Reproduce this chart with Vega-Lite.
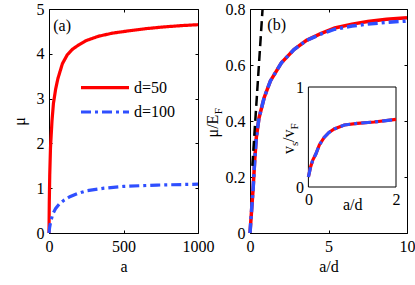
{
  "$schema": "https://vega.github.io/schema/vega-lite/v6.json",
  "padding": {"left": 10, "top": 0, "right": 0, "bottom": 0},
  "bounds": "flush",
  "spacing": 52,
  "config": {
    "font": "Liberation Serif",
    "view": {"stroke": "#000", "strokeWidth": 1},
    "axis": {
      "labelFont": "Liberation Serif", "labelFontSize": 16, "labelColor": "#000",
      "titleFont": "Liberation Serif", "titleFontSize": 16, "titleFontWeight": "normal", "titleColor": "#000",
      "domain": false, "grid": false, "tickSize": -3, "tickColor": "#000", "tickWidth": 1,
      "labelPadding": 8, "labelFlush": false
    },
    "legend": {"labelFont": "Liberation Serif"},
    "text": {"font": "Liberation Serif", "color": "#000"}
  },
  "datasets": {
    "a": [
      {"a": 0, "mu": 0, "d": "d=50"}, {"a": 2, "mu": 0.7, "d": "d=50"}, {"a": 5, "mu": 1.3, "d": "d=50"},
      {"a": 10, "mu": 1.9, "d": "d=50"}, {"a": 20, "mu": 2.5, "d": "d=50"}, {"a": 30, "mu": 2.9, "d": "d=50"},
      {"a": 45, "mu": 3.22, "d": "d=50"}, {"a": 60, "mu": 3.45, "d": "d=50"}, {"a": 90, "mu": 3.78, "d": "d=50"},
      {"a": 123, "mu": 3.98, "d": "d=50"}, {"a": 157, "mu": 4.1, "d": "d=50"}, {"a": 200, "mu": 4.2, "d": "d=50"},
      {"a": 246, "mu": 4.29, "d": "d=50"}, {"a": 330, "mu": 4.39, "d": "d=50"}, {"a": 424, "mu": 4.46, "d": "d=50"},
      {"a": 530, "mu": 4.51, "d": "d=50"}, {"a": 647, "mu": 4.56, "d": "d=50"}, {"a": 770, "mu": 4.6, "d": "d=50"},
      {"a": 893, "mu": 4.63, "d": "d=50"}, {"a": 1000, "mu": 4.65, "d": "d=50"},
      {"a": 0, "mu": 0, "d": "d=100"}, {"a": 4, "mu": 0.12, "d": "d=100"}, {"a": 11, "mu": 0.25, "d": "d=100"},
      {"a": 25, "mu": 0.42, "d": "d=100"}, {"a": 45, "mu": 0.55, "d": "d=100"}, {"a": 70, "mu": 0.65, "d": "d=100"},
      {"a": 100, "mu": 0.73, "d": "d=100"}, {"a": 140, "mu": 0.81, "d": "d=100"}, {"a": 190, "mu": 0.88, "d": "d=100"},
      {"a": 250, "mu": 0.94, "d": "d=100"}, {"a": 370, "mu": 1.0, "d": "d=100"}, {"a": 500, "mu": 1.04, "d": "d=100"},
      {"a": 725, "mu": 1.07, "d": "d=100"}, {"a": 1000, "mu": 1.09, "d": "d=100"}
    ],
    "bRed": [
      {"x": 0, "y": 0}, {"x": 0.1, "y": 0.08}, {"x": 0.2, "y": 0.16}, {"x": 0.3, "y": 0.26}, {"x": 0.4, "y": 0.34},
      {"x": 0.57, "y": 0.41}, {"x": 0.9, "y": 0.483}, {"x": 1.3, "y": 0.543}, {"x": 2, "y": 0.608}, {"x": 2.8, "y": 0.655},
      {"x": 3.6, "y": 0.688}, {"x": 4.5, "y": 0.712}, {"x": 5.4, "y": 0.732}, {"x": 6.5, "y": 0.746}, {"x": 7.5, "y": 0.755},
      {"x": 8.7, "y": 0.763}, {"x": 10, "y": 0.769}
    ],
    "bBlue": [
      {"x": 0, "y": 0}, {"x": 0.1, "y": 0.08}, {"x": 0.2, "y": 0.16}, {"x": 0.3, "y": 0.26}, {"x": 0.4, "y": 0.34},
      {"x": 0.57, "y": 0.41}, {"x": 0.9, "y": 0.483}, {"x": 1.3, "y": 0.543}, {"x": 2, "y": 0.608}, {"x": 2.8, "y": 0.655},
      {"x": 3.6, "y": 0.688}, {"x": 4.5, "y": 0.71}, {"x": 5.4, "y": 0.728}, {"x": 6.5, "y": 0.739}, {"x": 7.5, "y": 0.746},
      {"x": 8.7, "y": 0.752}, {"x": 10, "y": 0.757}
    ],
    "bBlack": [{"x": 0.15, "y": 0.24}, {"x": 0.8, "y": 0.8}],
    "inRed": [
      {"x": 0, "y": 0.1}, {"x": 0.05, "y": 0.2}, {"x": 0.1, "y": 0.27}, {"x": 0.17, "y": 0.33}, {"x": 0.25, "y": 0.42},
      {"x": 0.36, "y": 0.495}, {"x": 0.47, "y": 0.545}, {"x": 0.59, "y": 0.58}, {"x": 0.82, "y": 0.62}, {"x": 1.12, "y": 0.637},
      {"x": 1.5, "y": 0.65}, {"x": 2, "y": 0.677}
    ],
    "inBlue": [
      {"x": 0, "y": 0.1}, {"x": 0.05, "y": 0.2}, {"x": 0.1, "y": 0.27}, {"x": 0.17, "y": 0.33}, {"x": 0.25, "y": 0.42},
      {"x": 0.36, "y": 0.495}, {"x": 0.47, "y": 0.545}, {"x": 0.59, "y": 0.58}, {"x": 0.82, "y": 0.62}, {"x": 1.12, "y": 0.637},
      {"x": 1.5, "y": 0.65}, {"x": 2, "y": 0.675}
    ]
  },
  "hconcat": [
    {
      "width": 149, "height": 224,
      "layer": [
        {
          "data": {"name": "a"},
          "mark": {"type": "line", "strokeWidth": 3.2},
          "encoding": {
            "x": {"field": "a", "type": "quantitative", "scale": {"domain": [0, 1000], "nice": false},
              "axis": {"orient": "bottom", "values": [0, 500, 1000], "format": "d", "title": "a", "titleY": 38, "titleBaseline": "alphabetic"}},
            "y": {"field": "mu", "type": "quantitative", "scale": {"domain": [0, 5], "nice": false},
              "axis": {"orient": "left", "values": [0, 1, 2, 3, 4, 5], "title": "μ", "titlePadding": 9}},
            "color": {"field": "d", "type": "nominal", "scale": {"domain": ["d=50", "d=100"], "range": ["#ff0000", "#2f4fff"]},
              "legend": {"orient": "none", "legendX": 30, "legendY": 66.7, "title": null, "symbolType": "stroke", "symbolSize": 2304, "clipHeight": 24,
                "symbolStrokeWidth": 3.2, "labelFontSize": 16, "labelFont": "Liberation Serif", "labelColor": "#000", "labelOffset": 3, "rowPadding": 0.3, "padding": 0}},
            "strokeDash": {"field": "d", "type": "nominal", "scale": {"domain": ["d=50", "d=100"], "range": [[1, 0], [10, 4, 3, 4]]},
              "legend": {"orient": "none", "legendX": 30, "legendY": 66.7, "title": null, "symbolType": "stroke", "symbolSize": 2304, "clipHeight": 24,
                "symbolStrokeWidth": 3.2, "labelFontSize": 16, "labelFont": "Liberation Serif", "labelColor": "#000", "labelOffset": 3, "rowPadding": 0.3, "padding": 0}}
          }
        },
        {
          "data": {"name": "a"},
          "mark": {"type": "line", "opacity": 0},
          "encoding": {
            "x": {"field": "a", "type": "quantitative", "axis": {"orient": "top", "values": [0, 500, 1000], "labels": false, "title": null}},
            "y": {"field": "mu", "type": "quantitative", "axis": {"orient": "right", "values": [0, 1, 2, 3, 4, 5], "labels": false, "title": null}}
          }
        },
        {
          "data": {"values": [{"t": "(a)"}]},
          "mark": {"type": "text", "fontSize": 16, "align": "center", "baseline": "middle"},
          "encoding": {
            "text": {"field": "t"},
            "x": {"datum": 88, "type": "quantitative", "axis": null},
            "y": {"datum": 4.63, "type": "quantitative", "axis": null}
          }
        }
      ],
      "resolve": {"axis": {"x": "independent", "y": "independent"}}
    },
    {
      "width": 157, "height": 224,
      "layer": [
        {
          "layer": [
            {
              "data": {"name": "bRed"},
              "mark": {"type": "line", "color": "#ff0000", "strokeWidth": 3.5},
              "encoding": {
                "x": {"field": "x", "type": "quantitative", "scale": {"domain": [0, 10], "nice": false},
                  "axis": {"orient": "bottom", "values": [0, 5, 10], "title": "a/d", "titleY": 38, "titleBaseline": "alphabetic"}},
                "y": {"field": "y", "type": "quantitative", "scale": {"domain": [0, 0.8], "nice": false},
                  "axis": {"orient": "left", "values": [0, 0.2, 0.4, 0.6, 0.8], "format": "~g", "title": null}}
              }
            },
            {
              "data": {"name": "bBlue"},
              "mark": {"type": "line", "color": "#2f4fff", "strokeWidth": 3.5, "strokeDash": [10, 4, 3, 4]},
              "encoding": {
                "x": {"field": "x", "type": "quantitative", "axis": null},
                "y": {"field": "y", "type": "quantitative", "axis": null}
              }
            },
            {
              "data": {"name": "bBlack"},
              "mark": {"type": "line", "color": "#000", "strokeWidth": 2.5, "strokeDash": [10, 5]},
              "encoding": {
                "x": {"field": "x", "type": "quantitative", "axis": null},
                "y": {"field": "y", "type": "quantitative", "axis": null}
              }
            },
            {
              "data": {"name": "bRed"},
              "mark": {"type": "line", "opacity": 0},
              "encoding": {
                "x": {"field": "x", "type": "quantitative", "axis": {"orient": "top", "values": [0, 5, 10], "labels": false, "title": null}},
                "y": {"field": "y", "type": "quantitative", "axis": {"orient": "right", "values": [0, 0.2, 0.4, 0.6, 0.8], "labels": false, "title": null}}
              }
            },
            {
              "data": {"values": [{"t": "(b)"}]},
              "mark": {"type": "text", "fontSize": 16, "align": "center", "baseline": "middle"},
              "encoding": {
                "text": {"field": "t"},
                "x": {"datum": 1.7, "type": "quantitative", "axis": null},
                "y": {"datum": 0.743, "type": "quantitative", "axis": null}
              }
            },
            {
              "data": {"values": [{"t": "μ/E"}]},
              "mark": {"type": "text", "fontSize": 16, "align": "center", "baseline": "alphabetic", "angle": 270},
              "encoding": {
                "text": {"field": "t"},
                "x": {"datum": -2.06, "type": "quantitative", "axis": null},
                "y": {"datum": 0.382, "type": "quantitative", "axis": null}
              }
            },
            {
              "data": {"values": [{"t": "F"}]},
              "mark": {"type": "text", "fontSize": 11, "align": "left", "baseline": "alphabetic", "angle": 270},
              "encoding": {
                "text": {"field": "t"},
                "x": {"datum": -1.76, "type": "quantitative", "axis": null},
                "y": {"datum": 0.424, "type": "quantitative", "axis": null}
              }
            }
          ],
          "resolve": {"axis": {"x": "independent", "y": "independent"}}
        },
        {
          "data": {"values": [{}]},
          "mark": {"type": "rect", "fill": "#fff", "stroke": "#000", "strokeWidth": 1},
          "encoding": {
            "x": {"datum": 0, "type": "quantitative", "scale": {"domain": [0, 2], "nice": false, "range": [58.4, 146]}, "axis": null},
            "x2": {"datum": 2},
            "y": {"datum": 0, "type": "quantitative", "scale": {"domain": [0, 1], "nice": false, "range": [178, 78]}, "axis": null},
            "y2": {"datum": 1}
          }
        },
        {
          "data": {"name": "inRed"},
          "mark": {"type": "line", "color": "#ff0000", "strokeWidth": 3.2},
          "encoding": {
            "x": {"field": "x", "type": "quantitative", "scale": {"domain": [0, 2], "nice": false, "range": [58.4, 146]},
              "axis": {"orient": "bottom", "offset": -46, "values": [0, 2], "format": "~g", "ticks": false, "domain": false, "labelPadding": 4, "title": "a/d", "titleY": 22, "titleBaseline": "alphabetic"}},
            "y": {"field": "y", "type": "quantitative", "scale": {"domain": [0, 1], "nice": false, "range": [178, 78]},
              "axis": {"orient": "left", "offset": -58.4, "values": [0, 1], "format": "~g", "ticks": false, "domain": false, "labelPadding": 5, "title": null}}
          }
        },
        {
          "data": {"name": "inBlue"},
          "mark": {"type": "line", "color": "#2f4fff", "strokeWidth": 3.2, "strokeDash": [10, 4, 3, 4]},
          "encoding": {
            "x": {"field": "x", "type": "quantitative", "scale": {"domain": [0, 2], "nice": false, "range": [58.4, 146]}, "axis": null},
            "y": {"field": "y", "type": "quantitative", "scale": {"domain": [0, 1], "nice": false, "range": [178, 78]}, "axis": null}
          }
        },
        {
          "data": {"values": [{"t": "v /v"}]},
          "mark": {"type": "text", "fontSize": 16, "align": "left", "baseline": "alphabetic", "angle": 270},
          "encoding": {
            "text": {"field": "t"},
            "x": {"datum": -0.336, "type": "quantitative", "scale": {"domain": [0, 2], "nice": false, "range": [58.4, 146]}, "axis": null},
            "y": {"datum": 0.33, "type": "quantitative", "scale": {"domain": [0, 1], "nice": false, "range": [178, 78]}, "axis": null}
          }
        },
        {
          "data": {"values": [{"t": "s"}]},
          "mark": {"type": "text", "fontSize": 11, "align": "left", "baseline": "alphabetic", "angle": 270},
          "encoding": {
            "text": {"field": "t"},
            "x": {"datum": -0.233, "type": "quantitative", "scale": {"domain": [0, 2], "nice": false, "range": [58.4, 146]}, "axis": null},
            "y": {"datum": 0.41, "type": "quantitative", "scale": {"domain": [0, 1], "nice": false, "range": [178, 78]}, "axis": null}
          }
        },
        {
          "data": {"values": [{"t": "F"}]},
          "mark": {"type": "text", "fontSize": 11, "align": "left", "baseline": "alphabetic", "angle": 270},
          "encoding": {
            "text": {"field": "t"},
            "x": {"datum": -0.233, "type": "quantitative", "scale": {"domain": [0, 2], "nice": false, "range": [58.4, 146]}, "axis": null},
            "y": {"datum": 0.574, "type": "quantitative", "scale": {"domain": [0, 1], "nice": false, "range": [178, 78]}, "axis": null}
          }
        }
      ],
      "resolve": {"scale": {"x": "independent", "y": "independent"}}
    }
  ]
}
